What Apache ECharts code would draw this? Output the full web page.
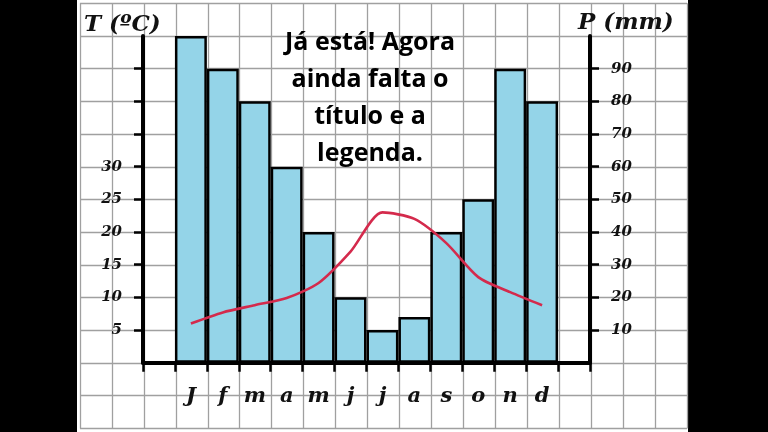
<!DOCTYPE html>
<html>
<head>
<meta charset="utf-8">
<script src="https://cdn.jsdelivr.net/npm/echarts@6/dist/echarts.min.js"></script>
<style>
html,body{margin:0;padding:0;background:#000;}
#c{width:768px;height:432px;}
</style>
</head>
<body>
<div id="c"></div>
<script>
var months = ['', 'J', 'f', 'm', 'a', 'm', 'j', 'j', 'a', 's', 'o', 'n', 'd', ''];
var precipitation = [null, 100, 90, 80, 60, 40, 20, 10, 14, 40, 50, 90, 80, null];
var temperature = [null, 6, 7.7, 8.8, 9.9, 12.2, 17, 23, 22, 18.3, 13.1, 10.8, 8.8, null];
var tempTicks = [5, 10, 15, 20, 25, 30, 35, 40, 45];
var tempLabels = [5, 10, 15, 20, 25, 30];
var precTicks = [10, 20, 30, 40, 50, 60, 70, 80, 90];
var titleText = 'Já está! Agora\nainda falta o\ntítulo e a\nlegenda.';
var leftName = 'T (ºC)';
var rightName = 'P (mm)';

var chart = echarts.init(document.getElementById('c'));
var hand = {fontFamily: 'DejaVu Serif', fontStyle: 'italic', fontWeight: 'bold', color: '#111'};
chart.setOption({
  animation: false,
  backgroundColor: 'transparent',
  graphic: [
    {type: 'rect', z: -10, silent: true, shape: {x: 77, y: 0, width: 611, height: 432}, style: {fill: '#fff'}},
    {type: 'text', z: 50, left: 84, top: 14, style: {text: leftName, font: 'italic bold 23px "DejaVu Serif"', fill: '#111'}},
    {type: 'text', z: 50, left: 578, top: 12, style: {text: rightName, font: 'italic bold 23px "DejaVu Serif"', fill: '#111'}}
  ],
  title: {
    text: titleText,
    left: 365,
    top: 19,
    textAlign: 'center',
    textStyle: {fontFamily: 'Open Sans', fontWeight: 'bold', fontSize: 25, lineHeight: 37, color: '#000'}
  },
  grid: [
    {left: 143, right: 178, top: 36, bottom: 69.3},
    {left: 80, width: 607, top: 3.3, height: 425.1}
  ],
  xAxis: [
    {
      type: 'category', gridIndex: 0, data: months,
      axisLine: {lineStyle: {color: '#000', width: 4}},
      axisTick: {show: true, length: 9, lineStyle: {color: '#000', width: 2.5}},
      axisLabel: Object.assign({fontSize: 21, margin: 23}, hand),
      splitLine: {show: false}, z: 5
    },
    {
      type: 'value', gridIndex: 1, min: 0, max: 19, interval: 1,
      axisLine: {show: false}, axisTick: {show: false}, axisLabel: {show: false},
      splitLine: {show: true, lineStyle: {color: '#a0a0a0', width: 1.3}}, z: -5
    }
  ],
  yAxis: [
    {
      type: 'value', gridIndex: 0, min: 0, max: 50, interval: 5, position: 'left',
      axisLine: {show: true, lineStyle: {color: '#000', width: 4}},
      axisTick: {show: true, length: 9, customValues: tempTicks, lineStyle: {color: '#000', width: 2.5}},
      axisLabel: Object.assign({fontSize: 15, margin: 21, customValues: tempLabels}, hand),
      splitLine: {show: false}, z: 5
    },
    {
      type: 'value', gridIndex: 0, min: 0, max: 100, interval: 10, position: 'right',
      axisLine: {show: true, lineStyle: {color: '#000', width: 4}},
      axisTick: {show: true, length: 9, customValues: precTicks, lineStyle: {color: '#000', width: 2.5}},
      axisLabel: Object.assign({fontSize: 15, margin: 21, customValues: precTicks}, hand),
      splitLine: {show: false}, z: 5
    },
    {
      type: 'value', gridIndex: 1, min: 0, max: 13, interval: 1,
      axisLine: {show: false}, axisTick: {show: false}, axisLabel: {show: false},
      splitLine: {show: true, lineStyle: {color: '#a0a0a0', width: 1.3}}, z: -5
    }
  ],
  series: [
    {
      type: 'bar', xAxisIndex: 0, yAxisIndex: 1, data: precipitation,
      barCategoryGap: 0, barWidth: '100%',
      itemStyle: {color: '#94d4e8', borderColor: '#000', borderWidth: 2.5},
      z: 2
    },
    {
      type: 'line', xAxisIndex: 0, yAxisIndex: 0, data: temperature,
      smooth: 0.25, showSymbol: false, symbol: 'none',
      lineStyle: {color: '#d42a4c', width: 2.6},
      z: 3
    }
  ]
});
</script>
</body>
</html>
